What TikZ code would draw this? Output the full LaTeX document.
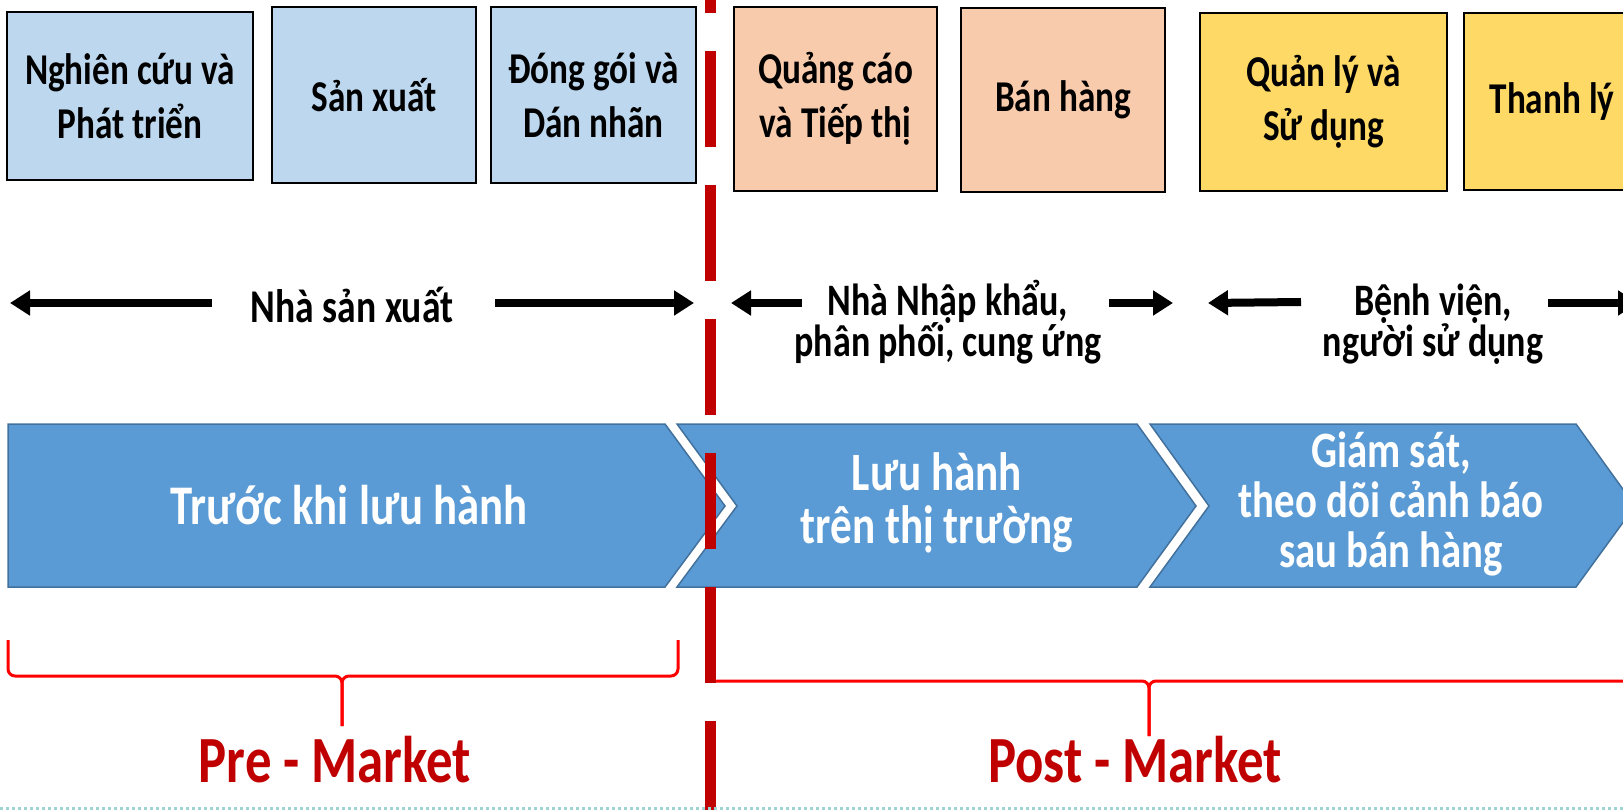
\documentclass[tikz,border=0pt]{standalone}
\usepackage{fontspec}
\setmainfont{Carlito}[FakeStretch=0.8]
\usetikzlibrary{arrows.meta}
\definecolor{pale-blue}{HTML}{BDD7EE}
\definecolor{peach}{HTML}{F8CBAD}
\definecolor{mustard}{HTML}{FFD966}
\definecolor{steel-blue}{HTML}{5B9BD5}
\definecolor{steel-edge}{HTML}{41719C}
\definecolor{crimson}{HTML}{C00000}
\definecolor{signal-red}{HTML}{FF0000}
\definecolor{sea-dots}{HTML}{9FD4D4}

\begin{document}
\begin{tikzpicture}[x=1pt, y=-1pt,
    stage/.style={draw=black, line width=1.5pt, inner sep=0pt, align=center,
      font=\bfseries\fontsize{44}{54}\selectfont},
    actor/.style={align=center, anchor=base, font=\bfseries\fontsize{45}{42}\selectfont},
    fat arrow/.style={line width=8pt, -{Triangle[length=20pt,width=24pt]}},
    chevron/.style={fill=steel-blue, draw=steel-edge, line width=1.5pt},
    phase/.style={text=white, align=center, anchor=base},
    brace/.style={signal-red, line width=3pt, rounded corners=7pt},
    market/.style={text=crimson, anchor=base, font=\bfseries\fontsize{66}{80}\selectfont}]
    \clip (0,0) rectangle (1623,810);

    % steps of the life cycle
    \node[stage, fill=pale-blue, minimum width=246pt, minimum height=168pt] (research) at (130,96) {Nghiên cứu và\\Phát triển};
    \node[stage, fill=pale-blue, minimum width=204pt, minimum height=176pt] (making) at (374,95) {Sản xuất};
    \node[stage, fill=pale-blue, minimum width=205pt, minimum height=176pt] (packing) at (593.5,95) {Đóng gói và\\Dán nhãn};
    \node[stage, fill=peach, minimum width=203pt, minimum height=184pt] (advert) at (835.5,99) {Quảng cáo\\và Tiếp thị};
    \node[stage, fill=peach, minimum width=204pt, minimum height=184pt] (selling) at (1063,100) {Bán hàng};
    \node[stage, fill=mustard, minimum width=247pt, minimum height=178pt] (using) at (1323.5,102) {Quản lý và\\Sử dụng};
    \node[stage, fill=mustard, minimum width=176pt, minimum height=177pt] (disposal) at (1552,101.5) {Thanh lý};

    % who is responsible (base = last line)
    \node[actor, font=\bfseries\fontsize{47}{47}\selectfont] (maker) at (352,323) {Nhà sản xuất};
    \node[actor] (dealer) at (948,357) {Nhà Nhập khẩu,\\phân phối, cung ứng};
    \node[actor] (hospital) at (1433,357) {Bệnh viện,\\người sử dụng};
    \coordinate (maker-l0) at (212,303);
    \coordinate (maker-l1) at (10,303);
    \coordinate (maker-r0) at (495,303);
    \coordinate (maker-r1) at (694,303);
    \coordinate (dealer-l0) at (802,303);
    \coordinate (dealer-l1) at (731,303);
    \coordinate (dealer-r0) at (1109,303);
    \coordinate (dealer-r1) at (1173,303);
    \coordinate (hospital-l0) at (1301,302);
    \coordinate (hospital-l1) at (1208,303);
    \coordinate (hospital-r0) at (1548,303);
    \coordinate (hospital-r1) at (1638,303);
    \draw[fat arrow] (maker-l0) -- (maker-l1);
    \draw[fat arrow] (maker-r0) -- (maker-r1);
    \draw[fat arrow] (dealer-l0) -- (dealer-l1);
    \draw[fat arrow] (dealer-r0) -- (dealer-r1);
    \draw[fat arrow] (hospital-l0) -- (hospital-l1);
    \draw[fat arrow] (hospital-r0) -- (hospital-r1);

    % phases
    \draw[chevron] (8,424) -- (665,424) -- (725,506) -- (665,587) -- (8,587) -- cycle;
    \draw[chevron] (677,424) -- (1137,424) -- (1196,506) -- (1137,587) -- (677,587) -- (737,506) -- cycle;
    \draw[chevron] (1150,424) -- (1576,424) -- (1635,506) -- (1576,587) -- (1150,587) -- (1209,506) -- cycle;
    \node[phase, font=\bfseries\fontsize{56}{47}\selectfont] (pre-phase) at (349,524) {Trước khi lưu hành};
    \node[phase, font=\bfseries\fontsize{54}{53}\selectfont] (market-phase) at (937,543) {Lưu hành\\trên thị trường};
    \node[phase, font=\bfseries\fontsize{51}{50}\selectfont] (watch-phase) at (1391,567) {Giám sát,\\theo dõi cảnh báo\\sau bán hàng};

    % braces
    \draw[brace] (8,640) |- (342,676) -- (342,726);
    \draw[brace] (678,640) |- (342,676) -- (342,726);
    \draw[brace] (716,681) -| (1149,736);
    \draw[brace] (1640,681) -| (1149,736);
    \node[market] (pre) at (335,782) {Pre - Market};
    \node[market] (post) at (1135,782) {Post - Market};

    % divider
    \draw[crimson, line width=11pt, dash pattern=on 96pt off 38pt, dash phase=83pt] (710,0) -- (710,810);
    \draw[sea-dots, line width=3pt, dash pattern=on 3pt off 3pt] (0,808) -- (1623,808);
\end{tikzpicture}
\end{document}
